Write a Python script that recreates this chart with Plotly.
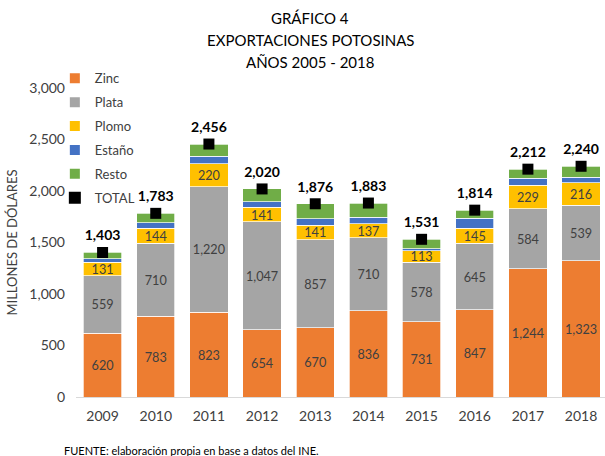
import plotly.graph_objects as go

years = ["2009", "2010", "2011", "2012", "2013", "2014", "2015", "2016", "2017", "2018"]
zinc = [620, 783, 823, 654, 670, 836, 731, 847, 1244, 1323]
plata = [559, 710, 1220, 1047, 857, 710, 578, 645, 584, 539]
plomo = [131, 144, 220, 141, 141, 137, 113, 145, 229, 216]
estano = [30, 55, 75, 55, 63, 63, 18, 97, 65, 55]
resto = [63, 91, 118, 123, 145, 137, 91, 80, 90, 107]
total = [1403, 1783, 2456, 2020, 1876, 1883, 1531, 1814, 2212, 2240]
title_lines = ["GRÁFICO 4", "EXPORTACIONES POTOSINAS", "AÑOS 2005 - 2018"]

FONT = "Lato"
TXT = "#404040"

fig = go.Figure()

def add_bar(name, vals, color, label):
    fig.add_trace(go.Bar(
        x=years, y=vals, name=name, legendgroup=name,
        marker=dict(color=color, line=dict(color="white", width=0.7)),
        text=vals if label else None,
        texttemplate="%{y:,}" if label else None,
        textposition="inside" if label else "none",
        insidetextanchor="middle",
        textangle=0,
        textfont=dict(family=FONT, size=14, color=TXT),
        hoverinfo="skip",
    ))

add_bar("Zinc", zinc, "#ED7D31", True)
add_bar("Plata", plata, "#A5A5A5", True)
add_bar("Plomo", plomo, "#FFC000", True)
add_bar("Estaño", estano, "#4472C4", False)
add_bar("Resto", resto, "#70AD47", False)

fig.add_trace(go.Scatter(
    x=years, y=total, name="TOTAL", legendgroup="TOTAL",
    mode="markers",
    marker=dict(symbol="square", size=11, color="black"),
    cliponaxis=False,
    hoverinfo="skip",
))
fig.add_trace(go.Scatter(
    x=years, y=total, showlegend=False,
    mode="markers+text",
    marker=dict(size=12, color="rgba(0,0,0,0)"),
    text=[f"{v:,}" for v in total],
    textposition="top center",
    textfont=dict(family=FONT, size=14, color="black", weight="bold"),
    cliponaxis=False,
    hoverinfo="skip",
))

annotations = []
for i, line in enumerate(title_lines):
    annotations.append(dict(
        text=line, xref="paper", yref="paper",
        x=(310 - 76) / 529, y=(397 - (18 + 22 * i)) / 309,
        xanchor="center", yanchor="middle", showarrow=False,
        font=dict(family=FONT, size=15, color="black"),
    ))
annotations.append(dict(
    text="FUENTE: elaboración propia en base a datos del INE.",
    xref="paper", yref="paper", x=-0.027, y=-0.145,
    xanchor="left", yanchor="top", showarrow=False,
    font=dict(family=FONT, size=11, color="black"),
))

fig.update_layout(
    width=605, height=456,
    margin=dict(l=76, r=0, t=88, b=59),
    paper_bgcolor="white", plot_bgcolor="white",
    barmode="stack", bargap=0.28,
    uniformtext=dict(minsize=8, mode="show"),
    font=dict(family=FONT, size=13, color=TXT),
    legend=dict(
        x=-0.04, y=1.08, xanchor="left", yanchor="top",
        traceorder="grouped", tracegroupgap=4,
        bgcolor="rgba(0,0,0,0)",
        font=dict(family=FONT, size=13, color=TXT),
        itemsizing="constant",
    ),
    xaxis=dict(
        range=[-0.5, 9.45], showgrid=False, showline=True,
        linecolor="#D9D9D9", linewidth=1, ticks="",
        ticklabelstandoff=6,
        tickfont=dict(family=FONT, size=14, color=TXT),
    ),
    yaxis=dict(
        range=[0, 3000], dtick=500, tickformat=",", showgrid=False,
        zeroline=False, showline=False, ticks="",
        ticklabelstandoff=10,
        tickfont=dict(family=FONT, size=14, color=TXT),
        title=dict(text="MILLONES DE DÓLARES", standoff=8,
                   font=dict(family=FONT, size=13, color=TXT)),
    ),
    annotations=annotations,
)

fig.write_html("out.html", config={"displayModeBar": False},
               post_script="document.body.style.margin='0';")
